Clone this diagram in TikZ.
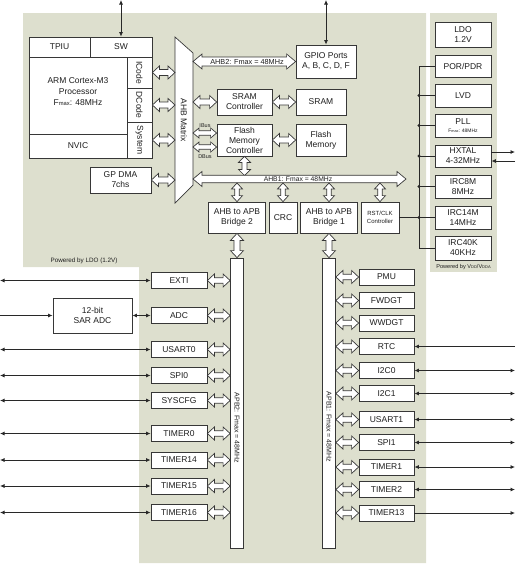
\documentclass[tikz,border=0pt]{standalone}
\usepackage{fontspec}
\setmainfont{Liberation Sans}
\usetikzlibrary{calc,arrows.meta}
\definecolor{bgc}{RGB}{221,223,206}
\definecolor{boxc}{RGB}{55,55,55}
\definecolor{txtc}{RGB}{30,30,30}
\definecolor{linec}{RGB}{40,40,40}
\newcommand\myfs[2]{\fontsize{#1}{#2}\selectfont}
\tikzset{
 blk/.style={draw=boxc, fill=white, line width=0.8pt, inner sep=0pt, align=center, text=txtc, font=\myfs{8.5}{10}},
 txt/.style={inner sep=0pt, align=center, text=txtc, font=\myfs{8.5}{10}},
 holfill/.style={draw=boxc, fill=white, line width=0.7pt, line join=miter},
 sig/.style={draw=linec, line width=0.8pt, {Latex[length=4.5pt,width=4pt]}-{Latex[length=4.5pt,width=4pt]}},
 sigr/.style={draw=linec, line width=0.8pt, -{Latex[length=4.5pt,width=4pt]}},
 wire/.style={draw=linec, line width=0.8pt},
 lper/.style={blk, minimum width=56pt, minimum height=16pt},
 rper/.style={blk, minimum width=55pt, minimum height=16pt},
 rcol/.style={blk, minimum width=56pt},
 bar/.style={draw=boxc, fill=white, line width=0.8pt, inner sep=0pt, minimum width=13pt, minimum height=290pt},
}
\newcommand\hol[5]{%
 \path (#1) coordinate (hA) (#2) coordinate (hB);
 \filldraw[holfill] (hA) -- ($(hA)!#3!(hB)!#4!90:(hB)$) -- ($(hA)!#3!(hB)!#5!90:(hB)$) -- ($(hB)!#3!(hA)!#5!-90:(hA)$) -- ($(hB)!#3!(hA)!#4!-90:(hA)$) -- (hB) -- ($(hB)!#3!(hA)!#4!90:(hA)$) -- ($(hB)!#3!(hA)!#5!90:(hA)$) -- ($(hA)!#3!(hB)!#5!-90:(hB)$) -- ($(hA)!#3!(hB)!#4!-90:(hB)$) -- cycle;}
\begin{document}
\begin{tikzpicture}[x=1pt,y=-1pt]
\useasboundingbox (0,0) rectangle (515,568);
\fill[bgc] (23,13) -- (426,13) -- (426,563) -- (139,563) -- (139,267) -- (23,267) -- cycle;
\fill[bgc] (430,13) rectangle (497,272);
\coordinate (L) at (0,0);
\coordinate (R) at (515,0);
\coordinate (mL) at (175,0);
\coordinate (mR) at (193,0);
\coordinate (bus) at (419,0);
\coordinate (ib) at (0,133);
\coordinate (db) at (0,147);
\coordinate (busb) at (0,183);
\coordinate (bust) at (0,175.5);

% processor block
\node[blk, minimum width=61pt, minimum height=20pt] (tpiu) at (59.5,47) {TPIU};
\node[blk, minimum width=62pt, minimum height=20pt] (sw) at (121,47) {SW};
\node[blk, minimum width=98pt, minimum height=77pt] (core) at (78,95.5) {};
\node[txt, font=\myfs{8.5}{11}] (coretxt) at (78,92) {ARM Cortex-M3\\Processor\\F{\myfs{5.8}{6}max}: 48MHz};
\node[blk, minimum width=98pt, minimum height=24pt] (nvic) at (78,146) {NVIC};
\node[blk, minimum width=25pt, minimum height=31pt] (ic) at (139.5,72.5) {};
\node[blk, minimum width=25pt, minimum height=34pt] (dc) at (139.5,105) {};
\node[blk, minimum width=25pt, minimum height=36pt] (sy) at (139.5,140) {};
\node[txt, rotate=-90] (ictxt) at (ic) {ICode};
\node[txt, rotate=-90] (dctxt) at (dc) {DCode};
\node[txt, rotate=-90] (sytxt) at (sy) {System};
\node[blk, minimum width=61pt, minimum height=26pt] (dma) at (120.5,180) {GP DMA\\7chs};

% AHB matrix
\draw[holfill] (175,37) -- (193,53) -- (193,185) -- (175,203) -- cycle;
\node[txt, rotate=-90] (mtx) at (184,120) {AHB Matrix};

% AHB side blocks
\node[blk, minimum width=60pt, minimum height=33pt] (gpio) at (326,61.5) {GPIO Ports\\A, B, C, D, F};
\node[blk, minimum width=55pt, minimum height=26pt] (sc) at (244.5,102) {SRAM\\Controller};
\node[blk, minimum width=50pt, minimum height=26pt] (sram) at (321,102) {SRAM};
\node[blk, minimum width=55pt, minimum height=32pt] (fmc) at (244.5,140) {Flash\\Memory\\Controller};
\node[blk, minimum width=50pt, minimum height=32pt] (fm) at (321,140) {Flash\\Memory};
\node[txt, font=\myfs{5.5}{6}] (ibl) at (205,125.5) {IBus};
\node[txt, font=\myfs{5.5}{6}] (dbl) at (205,157) {DBus};

% bridges
\node[blk, minimum width=57pt, minimum height=31pt] (br2) at (237,217.5) {AHB to APB\\Bridge 2};
\node[blk, minimum width=28pt, minimum height=31pt] (crc) at (283,217.5) {CRC};
\node[blk, minimum width=57pt, minimum height=31pt] (br1) at (329,217.5) {AHB to APB\\Bridge 1};
\node[blk, minimum width=38pt, minimum height=31pt, font=\myfs{6}{8}] (rst) at (380,217.5) {RST/CLK\\Controller};

% APB bars
\node[bar] (apb2) at (237,403) {};
\node[bar] (apb1) at (329,403) {};
\node[txt, rotate=-90, font=\myfs{7}{8}] (apb2l) at (237,428) {APB2: Fmax = 48MHz};
\node[txt, rotate=-90, font=\myfs{7}{8}] (apb1l) at (329,427) {APB1: Fmax = 48MHz};

% left peripherals
\node[lper] (exti) at (179,280.5) {EXTI};
\node[lper] (adc) at (179,315.5) {ADC};
\node[lper] (us0) at (179,349.5) {USART0};
\node[lper] (spi0) at (179,375.5) {SPI0};
\node[lper] (sysc) at (179,400.5) {SYSCFG};
\node[lper] (t0) at (179,433.5) {TIMER0};
\node[lper] (t14) at (179,460) {TIMER14};
\node[lper] (t15) at (179,486) {TIMER15};
\node[lper] (t16) at (179,512.5) {TIMER16};
\node[blk, minimum width=79pt, minimum height=35pt] (sar) at (92.5,315.5) {12-bit\\SAR ADC};

% right peripherals
\node[rper] (pmu) at (386.5,277) {PMU};
\node[rper] (fwdgt) at (386.5,300.5) {FWDGT};
\node[rper] (wwdgt) at (386.5,323) {WWDGT};
\node[rper] (rtc) at (386.5,346.5) {RTC};
\node[rper] (i2c0) at (386.5,370.5) {I2C0};
\node[rper] (i2c1) at (386.5,393.5) {I2C1};
\node[rper] (us1) at (386.5,419.5) {USART1};
\node[rper] (spi1) at (386.5,442.5) {SPI1};
\node[rper] (t1) at (386.5,467) {TIMER1};
\node[rper] (t2) at (386.5,489.5) {TIMER2};
\node[rper] (t13) at (386.5,513) {TIMER13};

% right column
\node[rcol, minimum height=25pt] (ldo) at (463,34.5) {LDO\\1.2V};
\node[rcol, minimum height=22pt] (por) at (463,66) {POR/PDR};
\node[rcol, minimum height=23pt] (lvd) at (463,95.5) {LVD};
\node[rcol, minimum height=23pt] (pll) at (463,125.5) {PLL\\[-1.5pt]{\myfs{5}{6}F{\myfs{3.8}{4}max}: 48MHz}};
\node[rcol, minimum height=22pt] (hx) at (463,156) {HXTAL\\4-32MHz};
\node[rcol, minimum height=23pt] (irc8) at (463,186.5) {IRC8M\\8MHz};
\node[rcol, minimum height=23pt] (irc14) at (463,217.5) {IRC14M\\14MHz};
\node[rcol, minimum height=24pt] (irc40) at (463,248) {IRC40K\\40KHz};
\node[txt, font=\myfs{5.6}{6}] (pwr2) at (463.5,267) {Powered by V{\myfs{4}{4}DD}/V{\myfs{4}{4}DDA}};
\node[txt, font=\myfs{6.3}{7}] (pwr1) at (84,261) {Powered by LDO (1.2V)};

% clock wiring
\draw[wire] (por.west) -- (por.west -| bus) -- (irc40.west -| bus) -- (irc40.west);
\foreach \n in {lvd,pll,hx,irc8,irc14}{
  \draw[wire] (\n.west -| bus) -- (\n.west);
  \fill[linec] (\n.west -| bus) circle (1.7);
}
\draw[wire] (rst.east) -- (rst.east -| bus);
\draw[sigr] ($(hx.east)+(0,-4)$) -- ($(hx.east -| R)+(0,-4)$);
\draw[sigr] ($(hx.east -| R)+(0,5)$) -- ($(hx.east)+(0,5)$);

% external lines
\draw[sig] (sw.north |- L) -- (sw.north);
\draw[sig] (gpio.north |- L) -- (gpio.north);
\foreach \n in {exti,us0,spi0,sysc,t0,t14,t15,t16}{
  \draw[sig] (\n.west -| L) -- (\n.west);
}
\draw[sigr] (sar.west -| L) -- (sar.west);
\draw[sig] (sar.east) -- (adc.west);
\foreach \n in {i2c0,i2c1,us1,spi1,t1,t2}{
  \draw[sig] (\n.east) -- (\n.east -| R);
}
\draw[sigr] (rtc.east -| R) -- (rtc.east);
\draw[sigr] (t13.east) -- (t13.east -| R);

% hollow bus arrows
\hol{ic.east}{ic.east -| mL}{7pt}{6.5pt}{3pt}
\hol{dc.east}{dc.east -| mL}{7pt}{6.5pt}{3pt}
\hol{sy.east}{sy.east -| mL}{7pt}{6.5pt}{3pt}
\hol{dma.east}{dma.east -| mL}{7pt}{6.5pt}{3pt}
\hol{gpio.west -| mR}{gpio.west}{9pt}{7.5pt}{4.5pt}
\node[txt, font=\myfs{7.3}{8}] (ahb2l) at (247,62) {AHB2: Fmax = 48MHz};
\hol{sc.west -| mR}{sc.west}{7pt}{6.5pt}{3pt}
\hol{sc.east}{sram.west}{7pt}{6.5pt}{3pt}
\hol{fmc.east}{fm.west}{7pt}{6.5pt}{3pt}
\hol{ib -| mR}{ib -| fmc.west}{6pt}{5pt}{2.3pt}
\hol{db -| mR}{db -| fmc.west}{6pt}{5pt}{2.3pt}
\hol{fmc.south}{fmc.south |- bust}{6pt}{6pt}{2.5pt}
\coordinate (a1l) at (193,179);
\coordinate (a1r) at (406,179);
\hol{a1l}{a1r}{9pt}{7.5pt}{3.7pt}
\node[txt, font=\myfs{6.8}{8}] (ahb1l) at (298,179) {AHB1: Fmax = 48MHz};
\foreach \n in {br2,crc,br1,rst}{
  \hol{\n.north |- busb}{\n.north}{6pt}{5.5pt}{2.2pt}
}
\hol{br2.south}{apb2.north}{7pt}{6.5pt}{3pt}
\hol{br1.south}{apb1.north}{7pt}{6.5pt}{3pt}
\foreach \n in {exti,adc,us0,spi0,sysc,t0,t14,t15,t16}{
  \hol{\n.east}{\n.east -| apb2.west}{7pt}{6.5pt}{2.8pt}
}
\foreach \n in {pmu,fwdgt,wwdgt,rtc,i2c0,i2c1,us1,spi1,t1,t2,t13}{
  \hol{\n.west -| apb1.east}{\n.west}{7pt}{6.5pt}{2.8pt}
}
\end{tikzpicture}
\end{document}
